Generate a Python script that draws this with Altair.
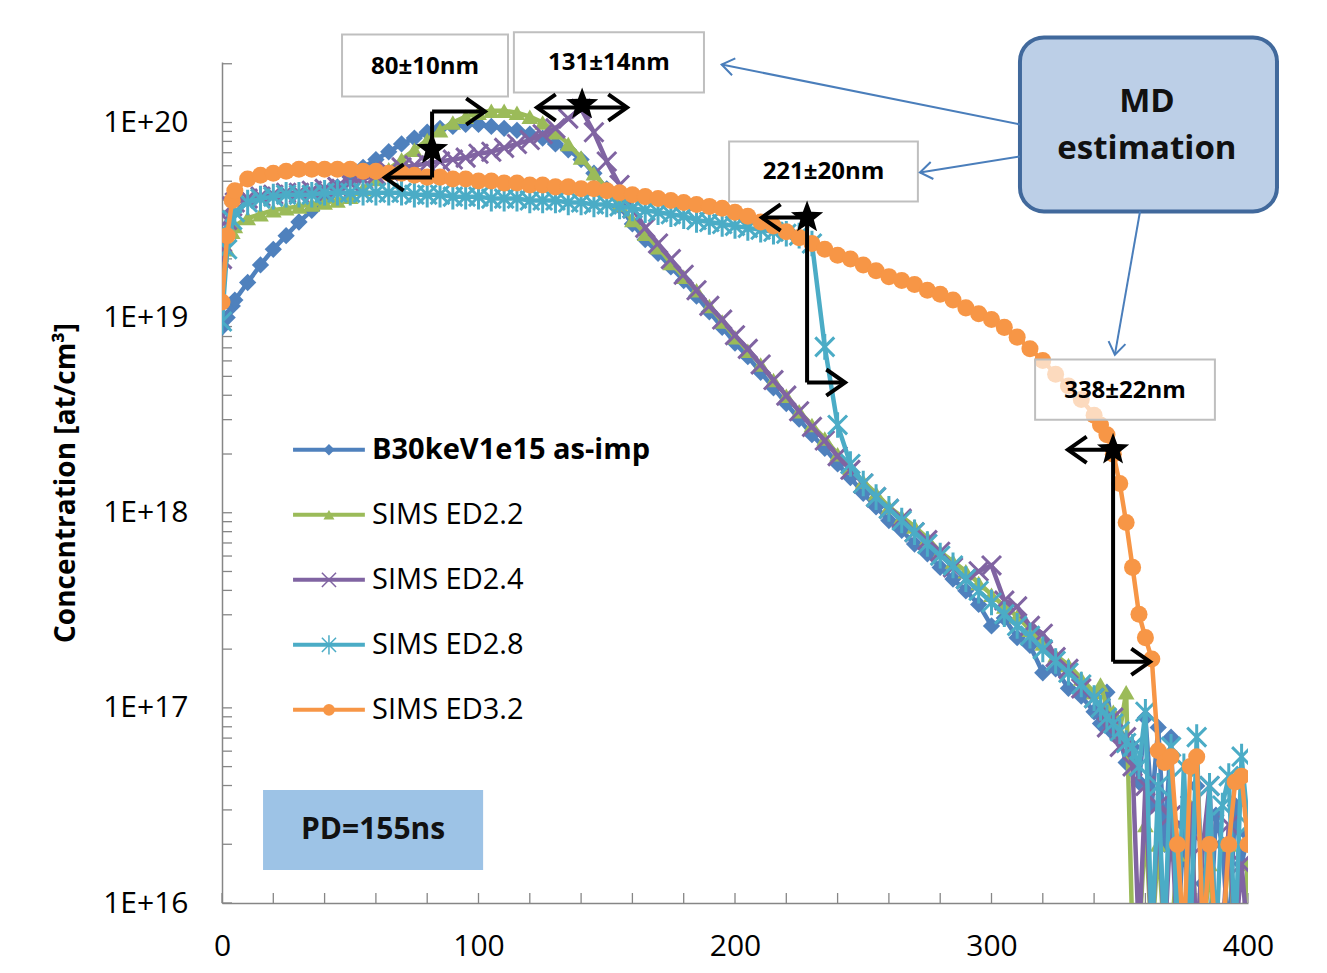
import altair as alt
import pandas as pd

# ---------------- data (depth in nm, log10 of concentration in at/cm3) ----------------
depth = [0, 2, 4, 5, 10, 15, 20, 25, 30, 35,
         40, 45, 50, 55, 60, 65, 70, 75, 80, 85,
         90, 95, 100, 105, 110, 115, 120, 125, 130, 135,
         140, 145, 150, 155, 160, 165, 170, 175, 180, 185,
         190, 195, 200, 205, 210, 215, 220, 225, 230, 235,
         240, 245, 250, 255, 260, 265, 270, 275, 280, 285,
         290, 295, 300, 305, 310, 315, 320, 325, 330, 335,
         340, 342.5, 345, 347.5, 350, 352.5, 355, 357.5, 360, 362.5,
         365, 367.5, 370, 372.5, 375, 377.5, 380, 382.5, 385, 387.5,
         390, 392.5, 395, 397.5, 400]

blue_log = [18.95, 19.0, 19.06, 19.09, 19.18, 19.27, 19.35, 19.42, 19.49, 19.55,
            19.61, 19.67, 19.72, 19.77, 19.81, 19.85, 19.89, 19.92, 19.95, 19.97,
            19.98, 19.99, 19.99, 19.98, 19.97, 19.96, 19.94, 19.92, 19.89, 19.86,
            19.81, 19.74, 19.66, 19.57, 19.48, 19.4, 19.33, 19.26, 19.19, 19.11,
            19.03, 18.95, 18.87, 18.8, 18.72, 18.64, 18.56, 18.48, 18.4, 18.33,
            18.25, 18.18, 18.1, 18.03, 17.96, 17.91, 17.84, 17.79, 17.72, 17.66,
            17.6, 17.53, 17.42, 17.46, 17.36, 17.32, 17.18, 17.2, 17.1, 17.06,
            16.98, 16.92, 17.08, 16.87, 16.84, 16.72, 16.8, 16.62, 16.95, 16.5,
            16.9, 16.3, 16.85, 15.8, 16.4, 15.8, 16.6, 16.1, 15.8, 16.45,
            16.3, 15.8, 16.5, 16.2, 16.35]

green_log = [19.1, 19.35, 19.44, 19.47, 19.51, 19.53, 19.55, 19.56, 19.57, 19.58,
             19.59, 19.6, 19.62, 19.66, 19.71, 19.76, 19.81, 19.86, 19.91, 19.96,
             20.0, 20.03, 20.05, 20.06, 20.06, 20.05, 20.03, 20.0, 19.95, 19.89,
             19.82, 19.74, 19.66, 19.58, 19.5, 19.43, 19.36, 19.28, 19.21, 19.14,
             19.06, 18.98, 18.9, 18.83, 18.76, 18.68, 18.6, 18.52, 18.45, 18.38,
             18.3, 18.23, 18.16, 18.1, 18.03, 17.98, 17.93, 17.87, 17.8, 17.75,
             17.7, 17.64, 17.58, 17.52, 17.47, 17.4, 17.33, 17.27, 17.22, 17.15,
             17.08, 17.12, 17.0, 16.98, 16.88, 17.08, 15.8, 15.8, 16.4, 15.8,
             16.3, 15.8, 15.8, 16.25, 15.8, 16.5, 15.8, 15.8, 16.2, 15.8,
             15.8, 16.3, 15.8, 15.8, 16.2]

purple_log = [19.3, 19.5, 19.57, 19.59, 19.61, 19.62, 19.63, 19.64, 19.64, 19.65,
              19.66, 19.67, 19.69, 19.71, 19.73, 19.75, 19.77, 19.78, 19.79, 19.8,
              19.81, 19.82, 19.84, 19.85, 19.87, 19.89, 19.91, 19.94, 19.97, 20.02,
              20.07, 19.95, 19.8, 19.68, 19.56, 19.46, 19.38, 19.3, 19.22, 19.14,
              19.06, 18.99, 18.91, 18.84, 18.76, 18.68, 18.6, 18.52, 18.44, 18.37,
              18.29, 18.22, 18.15, 18.08, 18.02, 17.97, 17.9, 17.86, 17.8, 17.72,
              17.66, 17.7, 17.73, 17.55, 17.52, 17.42, 17.38, 17.26, 17.2, 17.1,
              17.05, 17.0, 16.9, 16.95, 16.8, 16.85, 16.7, 15.8, 16.6, 15.8,
              16.5, 15.8, 16.45, 15.8, 15.8, 16.5, 15.8, 16.3, 16.6, 15.8,
              15.8, 16.4, 15.8, 16.2, 15.8]

cyan_log = [18.98, 19.35, 19.5, 19.54, 19.59, 19.61, 19.62, 19.63, 19.63, 19.63,
            19.64, 19.64, 19.64, 19.64, 19.64, 19.64, 19.64, 19.63, 19.63, 19.63,
            19.62, 19.62, 19.62, 19.61, 19.61, 19.61, 19.6, 19.6, 19.6, 19.59,
            19.59, 19.58, 19.58, 19.57, 19.56, 19.55, 19.54, 19.53, 19.52, 19.5,
            19.49, 19.48, 19.47, 19.46, 19.45, 19.44, 19.43, 19.42, 19.38, 18.85,
            18.45, 18.25, 18.15, 18.08, 18.02, 17.96, 17.9, 17.84, 17.78, 17.73,
            17.66, 17.6, 17.54, 17.48, 17.42, 17.37, 17.3, 17.24, 17.18, 17.12,
            17.05, 17.0, 16.95, 16.92, 16.88, 16.82, 16.8, 16.7, 16.98, 15.8,
            16.6, 15.8, 16.8, 15.8, 16.7, 15.8, 16.85, 15.8, 16.6, 15.8,
            16.5, 16.65, 15.8, 16.75, 16.4]

orange_log = [19.08, 19.42, 19.6, 19.65, 19.71, 19.73, 19.74, 19.75, 19.76, 19.76,
              19.76, 19.76, 19.76, 19.75, 19.75, 19.74, 19.74, 19.73, 19.72, 19.72,
              19.71, 19.71, 19.7, 19.7, 19.69, 19.69, 19.68, 19.68, 19.67, 19.67,
              19.66, 19.66, 19.65, 19.64, 19.63, 19.62, 19.61, 19.6, 19.59, 19.58,
              19.57, 19.56, 19.54, 19.52, 19.49, 19.47, 19.44, 19.41, 19.38, 19.35,
              19.32, 19.3, 19.27, 19.24, 19.21, 19.19, 19.17, 19.14, 19.12, 19.09,
              19.05, 19.02, 18.99, 18.95, 18.9, 18.84, 18.78, 18.71, 18.65, 18.58,
              18.5, 18.45, 18.4, 18.3, 18.15, 17.95, 17.72, 17.48, 17.36, 17.25,
              16.78, 16.72, 16.75, 16.3, 15.8, 16.7, 16.75, 15.8, 16.3, 15.8,
              15.8, 16.3, 16.62, 16.65, 16.3]

series_names = ["B30keV1e15 as-imp", "SIMS ED2.2", "SIMS ED2.4", "SIMS ED2.8", "SIMS ED3.2"]
series_logs = [blue_log, green_log, purple_log, cyan_log, orange_log]
series_colors = ["#4F81BD", "#9BBB59", "#8064A2", "#4BACC6", "#F79646"]

x_labels = [0, 100, 200, 300, 400]
x_minor = [0, 20, 40, 60, 80, 100, 120, 140, 160, 180, 200, 220, 240, 260, 280,
           300, 320, 340, 360, 380, 400]
y_labels = [1e16, 1e17, 1e18, 1e19, 1e20]

# annotation content, in data units (nm, log10 concentration)
label_boxes = [("80±10nm", 46.8, 111.5, 20.451, 20.133),
               ("131±14nm", 113.8, 187.9, 20.462, 20.154),
               ("221±20nm", 197.7, 271.3, 19.903, 19.595),
               ("338±22nm", 317.0, 387.1, 18.785, 18.477)]
stars = [(81.9, 19.862), (140.4, 20.092), (228.1, 19.513), (347.4, 18.323)]
black_segments = [(81.9, 20.056, 81.9, 19.718), (81.9, 20.056, 102.5, 20.056), (81.9, 19.718, 63.5, 19.718),
                  (122.8, 20.077, 157.9, 20.077),
                  (228.1, 19.513, 228.1, 18.667), (228.1, 19.513, 210.5, 19.513), (228.1, 18.667, 242.9, 18.667),
                  (347.4, 18.323, 347.4, 17.236), (347.4, 18.323, 329.8, 18.323), (347.4, 17.236, 361.8, 17.236)]
black_heads = [(102.5, 20.056, 0), (63.5, 19.718, 180), (157.9, 20.077, 0), (122.8, 20.077, 180),
               (210.5, 19.513, 180), (242.9, 18.667, 0), (329.8, 18.323, 180), (361.8, 17.236, 0)]
blue_arrows = [(311.1, 19.99, 194.8, 20.297, 191), (311.1, 19.826, 272.1, 19.744, 171),
               (357.9, 19.544, 348.1, 18.81, 100)]
md_box = (311.1, 411.3, 20.436, 19.544)
md_text = [("MD", 360.6, 20.103), ("estimation", 360.6, 19.862)]
pd_box = (16.0, 101.8, 16.579, 16.169)
pd_text = ("PD=155ns", 58.9, 16.374)
legend_rows = [18.323, 17.99, 17.656, 17.323, 16.99]
legend_x = (27.7, 55.7, 41.7, 58.5)

# ---------------- chart ----------------
FONT = "Open Sans"
W, H = 1026, 841
X_PATH = "M-1,-1L1,1M-1,1L1,-1"
AST_PATH = "M-1,-1L1,1M-1,1L1,-1M0,-1.35L0,1.35"
STAR_PATH = ("M0,-1L0.247,-0.34L0.951,-0.309L0.399,0.13L0.588,0.809L0,0.42"
             "L-0.588,0.809L-0.399,0.13L-0.951,-0.309L-0.247,-0.34Z")
CHEVRON = "M-1,-0.7L0,0L-1,0.7"
marker_specs = [("diamond", True, 300), ("triangle-up", True, 280), (X_PATH, False, 360),
                (AST_PATH, False, 360), ("circle", True, 290)]
legend_marker_size = [130, 120, 200, 200, 140]

x_scale = alt.Scale(domain=[0, 400], nice=False, zero=False)
y_scale = alt.Scale(type="log", domain=[1e16, 10 ** 20.31], nice=False)

x_axis = alt.Axis(values=x_labels, title="", grid=False, tickSize=0, labelPadding=28,
                  labelFontSize=30, labelFont=FONT, labelColor="black", domainColor="#868686",
                  domainWidth=1.5, labelFlush=False, labelOverlap=False)
y_axis = alt.Axis(values=y_labels, labelExpr="'1E+' + round(log(datum.value) / LN10)",
                  title="Concentration [at/cm³]", titleFont=FONT, titleFontSize=28,
                  titleFontWeight="bold", titleColor="black", titlePadding=22,
                  grid=False, tickSize=0, labelPadding=34, labelFontSize=30, labelFont=FONT,
                  labelColor="black", domainColor="#868686", domainWidth=1.5,
                  labelOverlap=False, labelFlush=False)


def X(f):
    return alt.X(f, type="quantitative", scale=x_scale, axis=x_axis)


def Y(f):
    return alt.Y(f, type="quantitative", scale=y_scale, axis=y_axis)


layers = []

ytick_vals = [k * 10 ** n for n in range(16, 20) for k in range(1, 10)] + [1e20, 2e20]
layers.append(alt.Chart(pd.DataFrame({"conc": ytick_vals})).mark_tick(
    orient="horizontal", size=10, thickness=1.3, color="#868686", opacity=1).encode(
    y=Y("conc"), x=alt.value(5)))
layers.append(alt.Chart(pd.DataFrame({"depth": x_minor})).mark_tick(
    orient="vertical", size=10, thickness=1.3, color="#868686", opacity=1).encode(
    x=X("depth"), y=alt.value(H - 5)))

# data series
for name, logs, color, (shape, filled, size) in zip(series_names, series_logs, series_colors, marker_specs):
    df = pd.DataFrame({"depth": depth, "conc": [10 ** v for v in logs]})
    base = alt.Chart(df).encode(x=X("depth"), y=Y("conc"))
    layers.append(base.mark_line(color=color, strokeWidth=4.5, clip=True))
    if filled:
        layers.append(base.mark_point(shape=shape, filled=True, color=color, size=size, opacity=1, clip=True))
    else:
        layers.append(base.mark_point(shape=shape, filled=False, color=color, size=size, strokeWidth=3,
                                      opacity=1, clip=True))

# label boxes
lb = pd.DataFrame({"text": [b[0] for b in label_boxes],
                   "x1": [b[1] for b in label_boxes], "x2": [b[2] for b in label_boxes],
                   "y1": [10 ** b[3] for b in label_boxes], "y2": [10 ** b[4] for b in label_boxes],
                   "xm": [(b[1] + b[2]) / 2 for b in label_boxes],
                   "ym": [10 ** ((b[3] + b[4]) / 2) for b in label_boxes]})
layers.append(alt.Chart(lb).mark_rect(fill="white", fillOpacity=0.65, stroke="#bfbfbf", strokeWidth=2).encode(
    x=X("x1"), x2="x2", y=Y("y1"), y2="y2"))
layers.append(alt.Chart(lb).mark_text(font=FONT, fontSize=24, fontWeight="bold", color="black",
                                      baseline="middle", align="center", dy=1).encode(
    x=X("xm"), y=Y("ym"), text="text:N"))

# MD estimation box
md = pd.DataFrame({"x1": [md_box[0]], "x2": [md_box[1]], "y1": [10 ** md_box[2]], "y2": [10 ** md_box[3]]})
layers.append(alt.Chart(md).mark_rect(fill="#bccfe7", stroke="#41699c", strokeWidth=4, cornerRadius=24).encode(
    x=X("x1"), x2="x2", y=Y("y1"), y2="y2"))
mdt = pd.DataFrame({"text": [t[0] for t in md_text], "x": [t[1] for t in md_text],
                    "y": [10 ** t[2] for t in md_text]})
layers.append(alt.Chart(mdt).mark_text(font=FONT, fontSize=33, fontWeight="bold", color="#111111",
                                       baseline="middle", align="center").encode(
    x=X("x"), y=Y("y"), text="text:N"))

# blue arrows
ba = pd.DataFrame({"x1": [a[0] for a in blue_arrows], "y1": [10 ** a[1] for a in blue_arrows],
                   "x2": [a[2] for a in blue_arrows], "y2": [10 ** a[3] for a in blue_arrows],
                   "ang": [a[4] for a in blue_arrows]})
layers.append(alt.Chart(ba).mark_rule(color="#4a7ebb", strokeWidth=2).encode(
    x=X("x1"), y=Y("y1"), x2="x2", y2="y2"))
layers.append(alt.Chart(ba).mark_point(shape=CHEVRON, filled=False, color="#4a7ebb", strokeWidth=2,
                                       size=600, opacity=1).encode(
    x=X("x2"), y=Y("y2"), angle=alt.Angle("ang:Q", scale=None)))

# black arrows and stars
bs = pd.DataFrame({"x1": [s[0] for s in black_segments], "y1": [10 ** s[1] for s in black_segments],
                   "x2": [s[2] for s in black_segments], "y2": [10 ** s[3] for s in black_segments]})
layers.append(alt.Chart(bs).mark_rule(color="black", strokeWidth=4).encode(
    x=X("x1"), y=Y("y1"), x2="x2", y2="y2"))
bh = pd.DataFrame({"x": [h[0] for h in black_heads], "y": [10 ** h[1] for h in black_heads],
                   "ang": [h[2] for h in black_heads]})
layers.append(alt.Chart(bh).mark_point(shape=CHEVRON, filled=False, color="black", strokeWidth=4,
                                       size=1400, opacity=1).encode(
    x=X("x"), y=Y("y"), angle=alt.Angle("ang:Q", scale=None)))
st = pd.DataFrame({"x": [s[0] for s in stars], "y": [10 ** s[1] for s in stars]})
layers.append(alt.Chart(st).mark_point(shape=STAR_PATH, filled=True, color="black", size=1150, opacity=1).encode(
    x=X("x"), y=Y("y")))

# legend
lx1, lx2, lxm, ltx = legend_x
for i, (name, color, (shape, filled, size)) in enumerate(zip(series_names, series_colors, marker_specs)):
    row = pd.DataFrame({"x1": [lx1], "x2": [lx2], "xm": [lxm], "tx": [ltx],
                        "y": [10 ** legend_rows[i]], "text": [name]})
    layers.append(alt.Chart(row).mark_rule(color=color, strokeWidth=4).encode(
        x=X("x1"), x2="x2", y=Y("y")))
    if filled:
        layers.append(alt.Chart(row).mark_point(shape=shape, filled=True, color=color,
                                                size=legend_marker_size[i], opacity=1).encode(
            x=X("xm"), y=Y("y")))
    else:
        layers.append(alt.Chart(row).mark_point(shape=shape, filled=False, color=color,
                                                size=legend_marker_size[i], strokeWidth=1.5,
                                                opacity=1).encode(x=X("xm"), y=Y("y")))
    layers.append(alt.Chart(row).mark_text(font=FONT, fontSize=29, fontWeight="bold" if i == 0 else "normal",
                                           color="black", align="left", baseline="middle").encode(
        x=X("tx"), y=Y("y"), text="text:N"))

# PD box
pdb = pd.DataFrame({"x1": [pd_box[0]], "x2": [pd_box[1]], "y1": [10 ** pd_box[2]], "y2": [10 ** pd_box[3]],
                    "tx": [pd_text[1]], "ty": [10 ** pd_text[2]], "text": [pd_text[0]]})
layers.append(alt.Chart(pdb).mark_rect(fill="#9dc3e6").encode(x=X("x1"), x2="x2", y=Y("y1"), y2="y2"))
layers.append(alt.Chart(pdb).mark_text(font=FONT, fontSize=30, fontWeight="bold", color="#111111",
                                       align="center", baseline="middle").encode(
    x=X("tx"), y=Y("ty"), text="text:N"))

chart = alt.layer(*layers).properties(
    width=W, height=H,
    autosize=alt.AutoSizeParams(type="none"),
    padding={"left": 214, "top": 54, "right": 71, "bottom": 68},
).configure_view(stroke=None)

chart.save("out.html", embed_options={"renderer": "svg", "actions": False})
